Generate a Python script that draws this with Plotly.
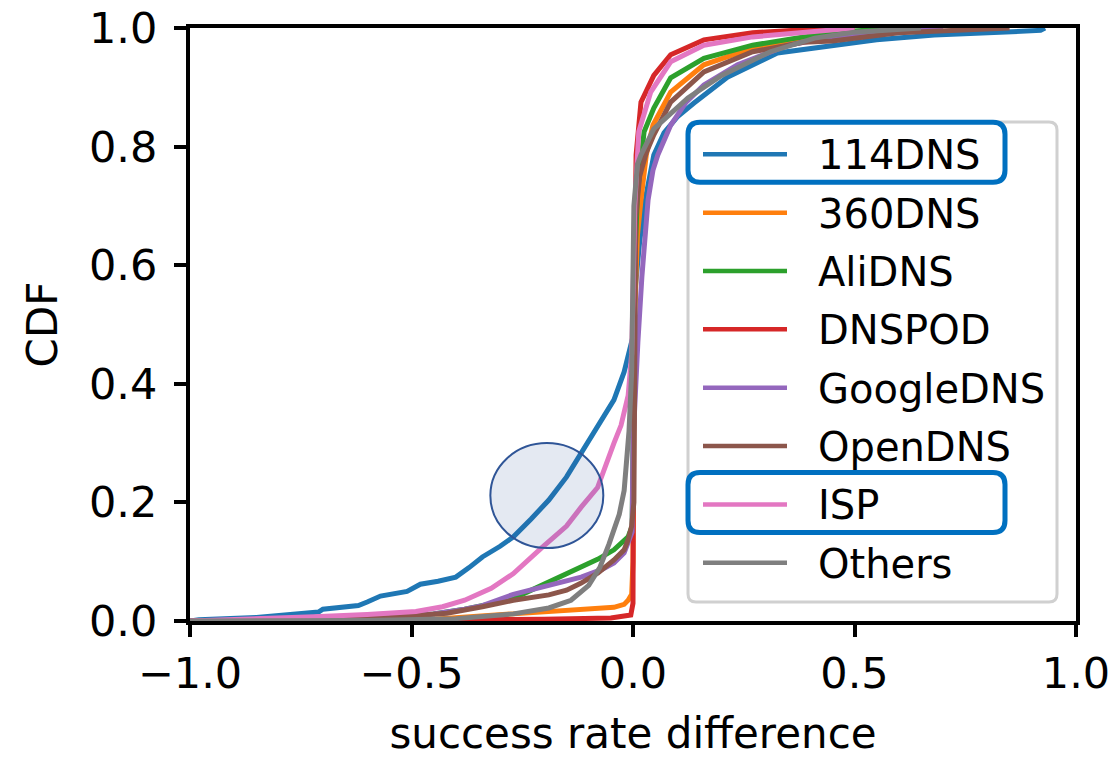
import plotly.graph_objects as go

# ---------------- data ----------------
names = ["114DNS", "360DNS", "AliDNS", "DNSPOD", "GoogleDNS", "OpenDNS", "ISP", "Others"]
colors = ["#1f77b4", "#ff7f0e", "#2ca02c", "#d62728", "#9467bd", "#8c564b", "#e377c2", "#7f7f7f"]

x_114 = [-1.0, -0.98, -0.85, -0.75, -0.71, -0.70, -0.62, -0.60, -0.57, -0.51, -0.48, -0.44, -0.40, -0.37,
         -0.34, -0.30, -0.27, -0.23, -0.19, -0.15, -0.117, -0.08, -0.043, -0.02, -0.005, 0.0, 0.005, 0.015,
         0.03, 0.047, 0.07, 0.10, 0.137, 0.213, 0.326, 0.45, 0.55, 0.68, 0.80, 0.92, 0.93]
y_114 = [0.0, 0.002, 0.006, 0.011, 0.015, 0.02, 0.026, 0.032, 0.042, 0.05, 0.062, 0.067, 0.074, 0.09,
         0.108, 0.126, 0.142, 0.172, 0.204, 0.243, 0.283, 0.325, 0.373, 0.42, 0.462, 0.48, 0.56, 0.64,
         0.72, 0.786, 0.823, 0.85, 0.873, 0.917, 0.958, 0.97, 0.98, 0.988, 0.992, 0.996, 1.0]

x_360 = [-1.0, -0.6, -0.45, -0.27, -0.15, -0.08, -0.043, -0.02, -0.011, -0.003, 0.0, 0.003, 0.01, 0.018,
         0.03, 0.045, 0.085, 0.16, 0.27, 0.385, 0.49, 0.565, 0.7]
y_360 = [0.0, 0.001, 0.003, 0.012, 0.017, 0.02, 0.023, 0.028, 0.035, 0.045, 0.1, 0.5, 0.65, 0.71,
         0.786, 0.836, 0.892, 0.938, 0.966, 0.983, 0.987, 0.992, 1.0]

x_ali = [-1.0, -0.7, -0.55, -0.45, -0.38, -0.30, -0.25, -0.19, -0.15, -0.117, -0.08, -0.043, -0.011,
         -0.002, 0.0, 0.004, 0.01, 0.025, 0.047, 0.085, 0.16, 0.27, 0.385, 0.5, 0.6]
y_ali = [0.0, 0.002, 0.006, 0.012, 0.02, 0.032, 0.045, 0.066, 0.078, 0.09, 0.104, 0.12, 0.142,
         0.16, 0.4, 0.6, 0.72, 0.825, 0.865, 0.916, 0.949, 0.971, 0.985, 0.995, 1.0]

x_pod = [-1.0, -0.5, -0.2, -0.05, -0.005, 0.0, 0.002, 0.007, 0.018, 0.047, 0.085, 0.16, 0.27, 0.385, 0.5]
y_pod = [0.0, 0.001, 0.003, 0.005, 0.01, 0.03, 0.5, 0.786, 0.875, 0.92, 0.955, 0.98, 0.992, 0.997, 1.0]

x_goo = [-1.0, -0.7, -0.55, -0.45, -0.38, -0.34, -0.27, -0.19, -0.117, -0.07, -0.043, -0.02, -0.011,
         -0.002, 0.0, 0.005, 0.011, 0.02, 0.034, 0.045, 0.056, 0.085, 0.12, 0.16, 0.236, 0.35, 0.45, 0.6, 0.7]
y_goo = [0.0, 0.002, 0.006, 0.012, 0.02, 0.026, 0.045, 0.06, 0.074, 0.087, 0.098, 0.115, 0.13,
         0.15, 0.3, 0.4, 0.47, 0.58, 0.71, 0.76, 0.786, 0.836, 0.875, 0.904, 0.938, 0.971, 0.985, 0.997, 1.0]

x_open = [-1.0, -0.7, -0.55, -0.42, -0.34, -0.27, -0.19, -0.15, -0.117, -0.079, -0.043, -0.02, -0.011,
          -0.003, 0.002, 0.003, 0.006, 0.015, 0.03, 0.047, 0.085, 0.16, 0.27, 0.385, 0.45, 0.6, 0.75, 0.85]
y_open = [0.0, 0.002, 0.006, 0.013, 0.024, 0.035, 0.044, 0.052, 0.064, 0.081, 0.103, 0.12, 0.137,
          0.16, 0.2, 0.54, 0.68, 0.75, 0.79, 0.82, 0.875, 0.926, 0.96, 0.976, 0.978, 0.992, 0.997, 1.0]

x_isp = [-1.0, -0.85, -0.72, -0.6, -0.49, -0.43, -0.38, -0.32, -0.27, -0.207, -0.15, -0.117, -0.08,
         -0.043, -0.027, -0.011, -0.003, 0.0, 0.004, 0.013, 0.04, 0.085, 0.16, 0.27, 0.385, 0.5]
y_isp = [0.0, 0.003, 0.007, 0.011, 0.016, 0.024, 0.035, 0.055, 0.08, 0.123, 0.16, 0.192, 0.225,
         0.30, 0.33, 0.38, 0.45, 0.55, 0.7, 0.825, 0.892, 0.943, 0.971, 0.985, 0.993, 1.0]

x_oth = [-1.0, -0.6, -0.4, -0.27, -0.19, -0.14, -0.10, -0.075, -0.054, -0.031, -0.02, -0.009, -0.003,
         0.0, 0.002, 0.01, 0.018, 0.047, 0.124, 0.2, 0.31, 0.41, 0.5, 0.65]
y_oth = [0.0, 0.001, 0.004, 0.012, 0.022, 0.035, 0.06, 0.09, 0.13, 0.18, 0.22, 0.32, 0.42,
         0.54, 0.7, 0.77, 0.786, 0.83, 0.882, 0.92, 0.96, 0.983, 0.993, 1.0]

series_x = [x_114, x_360, x_ali, x_pod, x_goo, x_open, x_isp, x_oth]
series_y = [y_114, y_360, y_ali, y_pod, y_goo, y_open, y_isp, y_oth]

x_ticks = [-1.0, -0.5, 0.0, 0.5, 1.0]
y_ticks = [0.0, 0.2, 0.4, 0.6, 0.8, 1.0]
highlighted = ["114DNS", "ISP"]

# ---------------- figure ----------------
W, H = 1120, 758
L, R, T, B = 190, 44, 28, 137
PW, PH = W - L - R, H - T - B
FONT = "DejaVu Sans"

fig = go.Figure()
for nm, c, xs, ys in zip(names, colors, series_x, series_y):
    fig.add_trace(go.Scatter(x=xs, y=ys, mode="lines", name=nm,
                             line=dict(color=c, width=5), showlegend=False))


def px_x(p):
    return (p - L) / PW


def px_y(p):
    return (H - B - p) / PH


def rrect(x0, y0, x1, y1, r):
    # rounded rectangle in paper coords from pixel box
    rx, ry = r / PW, r / PH
    a, b, c, d = px_x(x0), px_y(y1), px_x(x1), px_y(y0)  # left, bottom, right, top
    return (f"M{a+rx},{d} L{c-rx},{d} Q{c},{d} {c},{d-ry} L{c},{b+ry} Q{c},{b} {c-rx},{b} "
            f"L{a+rx},{b} Q{a},{b} {a},{b+ry} L{a},{d-ry} Q{a},{d} {a+rx},{d} Z")


shapes = []
# highlight circle
shapes.append(dict(type="circle", xref="x", yref="y", x0=-0.322, x1=-0.067, y0=0.123, y1=0.300,
                   fillcolor="rgba(47,85,151,0.13)", line=dict(color="#2F5597", width=2), layer="above"))
# legend frame
shapes.append(dict(type="path", xref="paper", yref="paper", path=rrect(688, 122, 1057, 602, 8),
                   fillcolor="rgba(255,255,255,0.85)", line=dict(color="#d0d0d0", width=3), layer="above"))

annotations = []
row0, rowstep = 154.3, 58.35
for i, (nm, c) in enumerate(zip(names, colors)):
    yy = row0 + i * rowstep
    shapes.append(dict(type="line", xref="paper", yref="paper", x0=px_x(703), x1=px_x(787),
                       y0=px_y(yy), y1=px_y(yy), line=dict(color=c, width=4.5), layer="above"))
    annotations.append(dict(text=nm, xref="paper", yref="paper", x=px_x(816), y=px_y(yy + 1),
                            xanchor="left", yanchor="middle", showarrow=False,
                            font=dict(family=FONT, size=40, color="black")))
    if nm in highlighted:
        shapes.append(dict(type="path", xref="paper", yref="paper",
                           path=rrect(688, yy - 32, 1005, yy + 28, 12),
                           line=dict(color="#0070C0", width=5), layer="above"))

fig.update_layout(
    width=W, height=H,
    margin=dict(l=L, r=R, t=T, b=B, pad=0, autoexpand=False),
    paper_bgcolor="white", plot_bgcolor="white",
    font=dict(family=FONT, size=43, color="black"),
    shapes=shapes, annotations=annotations,
    showlegend=False,
)
fig.update_xaxes(range=[-1, 1], tickvals=x_ticks, tickformat=".1f", automargin=False,
                 showline=True, mirror=True, linecolor="black", linewidth=4,
                 ticks="outside", ticklen=12, tickwidth=4, tickcolor="black",
                 ticklabelstandoff=-1,
                 showgrid=False, zeroline=False,
                 title=dict(text="success rate difference", font=dict(size=42), standoff=26))
fig.update_yaxes(range=[0, 1], tickvals=y_ticks, tickformat=".1f", automargin=False,
                 showline=True, mirror=True, linecolor="black", linewidth=4,
                 ticks="outside", ticklen=12, tickwidth=4, tickcolor="black",
                 ticklabelstandoff=8,
                 showgrid=False, zeroline=False,
                 title=dict(text="CDF", font=dict(size=42), standoff=19))

fig.write_html("out.html")
